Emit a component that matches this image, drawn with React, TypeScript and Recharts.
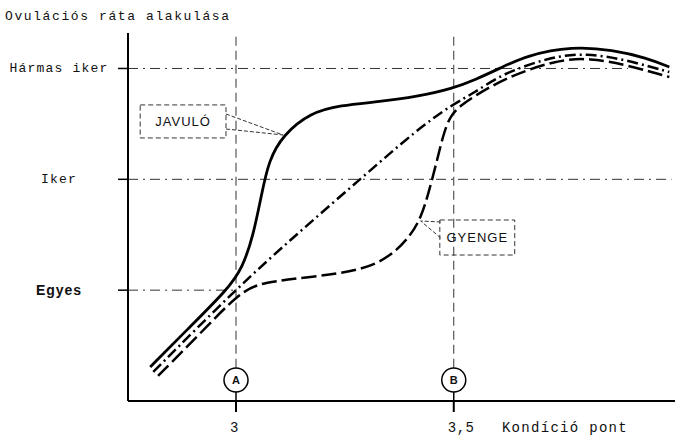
import React from 'react';
import { LineChart, Line, XAxis, YAxis, ReferenceLine, ReferenceArea, ReferenceDot } from 'recharts';

// Y levels (ovulation rate) and their labels
const yLevels = [1, 2, 3];
const yLabels = ['Egyes', 'Iker', 'Hármas iker'];
// how far to the right each level's guide line runs (x value)
const yGuideEnds = [3.0, 4.0, 3.9];

// X ticks (condition score)
const xTicks = [3, 3.5];
const xTickLabels = ['3', '3,5'];
const xTitle = 'Kondíció pont';
const chartTitle = 'Ovulációs ráta alakulása';

// Series: [condition score, ovulation level]
const javulo: [number, number][] = [
  [2.803, 0.307], [2.894, 0.668], [2.98, 1.005], [3.015, 1.2], [3.04, 1.5],
  [3.058, 1.85], [3.075, 2.17], [3.108, 2.4], [3.17, 2.6], [3.239, 2.668],
  [3.33, 2.7], [3.415, 2.745], [3.498, 2.82], [3.55, 2.9], [3.605, 3.0],
  [3.667, 3.118], [3.773, 3.2], [3.865, 3.167], [3.943, 3.095], [3.995, 3.013],
];
const atlag: [number, number][] = [
  [2.81, 0.262], [3.0, 1.011], [3.14, 1.507], [3.291, 2.021], [3.415, 2.445],
  [3.498, 2.68], [3.548, 2.779], [3.605, 2.941], [3.72, 3.104], [3.805, 3.14],
  [3.897, 3.077], [3.995, 2.968],
];
const gyenge: [number, number][] = [
  [2.821, 0.226], [2.917, 0.605], [3.009, 0.984], [3.062, 1.074], [3.176, 1.119],
  [3.291, 1.182], [3.353, 1.299], [3.399, 1.48], [3.426, 1.66], [3.445, 1.92],
  [3.461, 2.16], [3.475, 2.39], [3.491, 2.57], [3.514, 2.66], [3.544, 2.743],
  [3.622, 2.923], [3.736, 3.077], [3.812, 3.095], [3.897, 3.032], [3.995, 2.923],
];

// Markers A / B on the x axis
const markerXs = [3, 3.5];
const markerLabels = ['A', 'B'];
const markerY = 0.19;
const markerLineTop = 0.3;

// Callout boxes: [x1, x2, y1, y2], tip on the curve, two anchor points on box
const calloutLabels = ['JAVULÓ', 'GYENGE'];
const calloutBoxes = [
  [2.78, 2.977, 2.373, 2.671],
  [3.468, 3.64, 1.317, 1.633],
];
const calloutTips = [
  [3.108, 2.4],
  [3.424, 1.624],
];
const calloutAnchors = [
  [[2.977, 2.589], [2.977, 2.454]],
  [[3.47, 1.615], [3.47, 1.471]],
];

const X_DOMAIN: [number, number] = [2.752, 4.008];
const Y_DOMAIN: [number, number] = [0, 3.32];

const toPts = (a: [number, number][]) => a.map(([x, y]) => ({ x, y }));

const mono = '"Liberation Mono", "DejaVu Sans Mono", monospace';
const sans = '"Liberation Sans", Arial, sans-serif';

const YTick = (props: any) => {
  const { x, y, payload } = props;
  const i = yLevels.indexOf(payload.value);
  const label = yLabels[i];
  const bold = label === 'Egyes';
  return (
    <text
      x={x - 57}
      y={y}
      textAnchor="middle"
      dominantBaseline="central"
      fill="#111"
      style={{
        fontFamily: bold ? sans : mono,
        fontSize: bold ? 14 : 13,
        fontWeight: bold ? 'bold' : 'normal',
        letterSpacing: bold ? 1 : 1.2,
      }}
    >
      {label}
    </text>
  );
};

const XTick = (props: any) => {
  const { x, y, payload } = props;
  const i = xTicks.indexOf(payload.value);
  return (
    <text
      x={x - 6}
      y={y + 14}
      textAnchor="start"
      dominantBaseline="central"
      fill="#111"
      style={{ fontFamily: mono, fontSize: 14, letterSpacing: 0.5 }}
    >
      {xTickLabels[i]}
    </text>
  );
};

const XTitle = (props: any) => {
  const vb = props.viewBox || { x: 0, y: 0, width: 0, height: 0 };
  return (
    <text
      x={vb.x + vb.width - 47}
      y={vb.y + 27}
      textAnchor="end"
      dominantBaseline="central"
      fill="#111"
      style={{ fontFamily: mono, fontSize: 14, letterSpacing: 1.3 }}
    >
      {xTitle}
    </text>
  );
};

export default function App() {
  return (
    <div style={{ position: 'absolute', left: 0, top: 0, width: 675, height: 436, background: '#fff' }}>
      <div
        style={{
          position: 'absolute',
          left: 5,
          top: 9,
          fontFamily: mono,
          fontSize: 13,
          letterSpacing: 1.6,
          lineHeight: '16px',
          color: '#111',
          whiteSpace: 'nowrap',
        }}
      >
        {chartTitle}
      </div>
      <LineChart width={675} height={436} margin={{ top: 33, right: 0, bottom: 0, left: 0 }}>
        <XAxis
          type="number"
          dataKey="x"
          domain={X_DOMAIN}
          allowDataOverflow
          ticks={xTicks}
          tickSize={11}
          axisLine={{ stroke: '#000', strokeWidth: 2 }}
          tickLine={{ stroke: '#000', strokeWidth: 2 }}
          tick={<XTick />}
          height={35}
          label={<XTitle />}
        />
        <YAxis
          type="number"
          dataKey="y"
          domain={Y_DOMAIN}
          allowDataOverflow
          ticks={yLevels}
          tickSize={10}
          width={128}
          axisLine={{ stroke: '#000', strokeWidth: 2 }}
          tickLine={{ stroke: '#000', strokeWidth: 1.5 }}
          tick={<YTick />}
        />
        {yLevels.map((lv, i) => (
          <ReferenceLine
            key={'g' + i}
            segment={[{ x: X_DOMAIN[0], y: lv }, { x: yGuideEnds[i], y: lv }]}
            stroke="#333"
            strokeWidth={1}
            strokeDasharray="10 5 2 5"
            ifOverflow="visible"
          />
        ))}
        {markerXs.map((mx, i) => (
          <ReferenceLine
            key={'v' + i}
            segment={[{ x: mx, y: markerLineTop }, { x: mx, y: Y_DOMAIN[1] }]}
            stroke="#333"
            strokeWidth={1}
            strokeDasharray="9 5"
            ifOverflow="visible"
          />
        ))}
        {markerXs.map((mx, i) => (
          <ReferenceLine
            key={'s' + i}
            segment={[{ x: mx, y: Y_DOMAIN[0] }, { x: mx, y: markerY }]}
            stroke="#000"
            strokeWidth={1.5}
            ifOverflow="visible"
          />
        ))}
        {calloutAnchors.map((anchors, i) =>
          anchors.map((a, j) => (
            <ReferenceLine
              key={'c' + i + '-' + j}
              segment={[{ x: a[0], y: a[1] }, { x: calloutTips[i][0], y: calloutTips[i][1] }]}
              stroke="#333"
              strokeWidth={1}
              strokeDasharray="4 2"
              ifOverflow="visible"
            />
          ))
        )}
        {calloutBoxes.map((b, i) => (
          <ReferenceArea
            key={'b' + i}
            x1={b[0]}
            x2={b[1]}
            y1={b[2]}
            y2={b[3]}
            fill="#fff"
            fillOpacity={1}
            stroke="#333"
            strokeWidth={1}
            strokeDasharray="5 3"
            ifOverflow="visible"
            label={{
              value: calloutLabels[i],
              position: 'center',
              fill: '#111',
              style: { fontFamily: sans, fontSize: 13, letterSpacing: 1 },
            }}
          />
        ))}
        <Line
          data={toPts(atlag)}
          dataKey="y"
          type="basis"
          stroke="#000"
          strokeWidth={2.5}
          strokeDasharray="11 4 2 4"
          dot={false}
          activeDot={false}
          isAnimationActive={false}
        />
        <Line
          data={toPts(gyenge)}
          dataKey="y"
          type="basis"
          stroke="#000"
          strokeWidth={2.5}
          strokeDasharray="15 5"
          dot={false}
          activeDot={false}
          isAnimationActive={false}
        />
        <Line
          data={toPts(javulo)}
          dataKey="y"
          type="basis"
          stroke="#000"
          strokeWidth={2.8}
          dot={false}
          activeDot={false}
          isAnimationActive={false}
        />
        {markerXs.map((mx, i) => (
          <ReferenceDot
            key={'m' + i}
            x={mx}
            y={markerY}
            r={12}
            fill="#fff"
            stroke="#000"
            strokeWidth={1.5}
            ifOverflow="visible"
            label={{
              value: markerLabels[i],
              position: 'center',
              fill: '#111',
              style: { fontFamily: sans, fontSize: 11, fontWeight: 'bold' },
            }}
          />
        ))}
      </LineChart>
    </div>
  );
}
